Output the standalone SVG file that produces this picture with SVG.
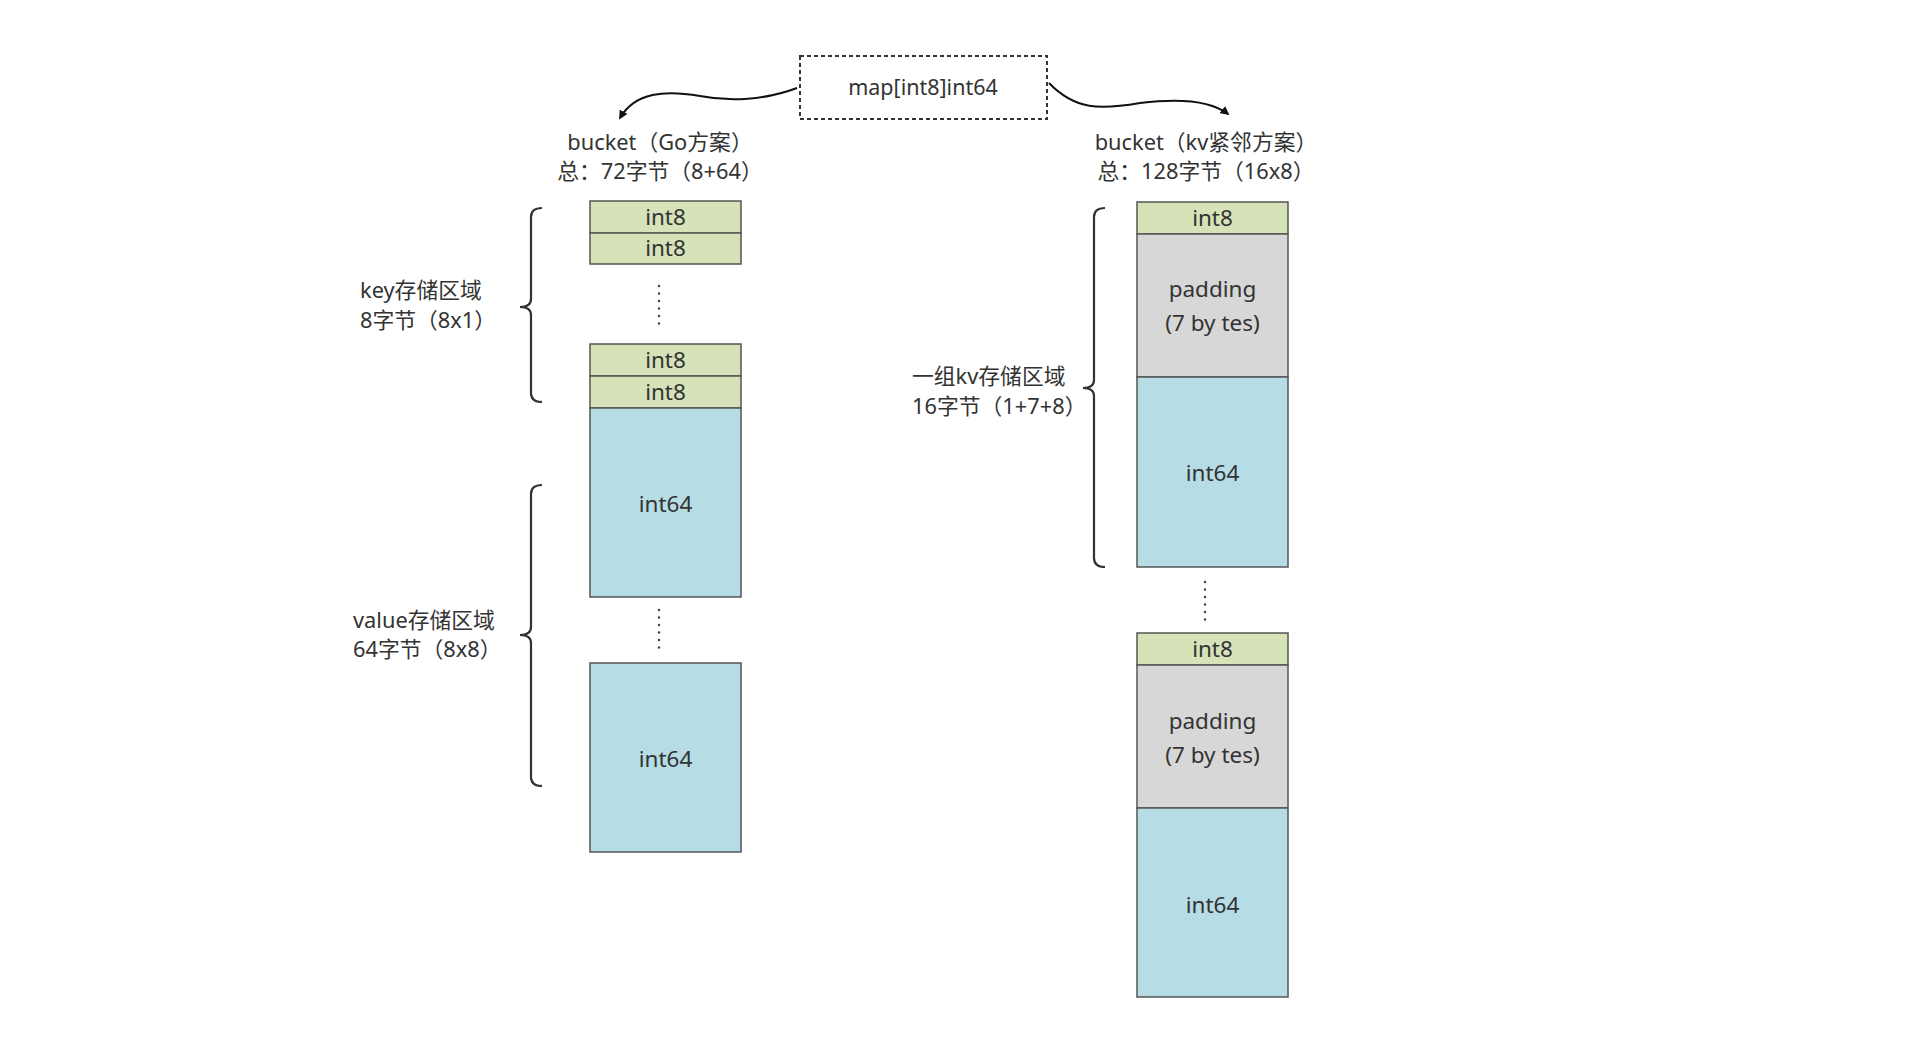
<svg xmlns="http://www.w3.org/2000/svg" width="1920" height="1047" viewBox="0 0 1920 1047">
<defs>
<style>
text{font-family:"Noto Sans","Noto Sans CJK SC",sans-serif;fill:#333;}
.lbl{font-size:21.8px;}
.cell{font-size:22.5px;text-anchor:middle;}
.k{fill:#d6e2b8;stroke:#555;stroke-width:1.5;}
.v{fill:#b6dce6;stroke:#555;stroke-width:1.5;}
.p{fill:#d7d7d7;stroke:#555;stroke-width:1.5;}
.brace{fill:none;stroke:#333;stroke-width:2.2;}
.dots{fill:none;stroke:#444;stroke-width:2.5;stroke-linecap:round;stroke-dasharray:0 7.5;}
.conn{fill:none;stroke:#111;stroke-width:2;}
</style>
<marker id="ah" viewBox="0 0 10 10" refX="8" refY="5" markerWidth="9" markerHeight="9" markerUnits="userSpaceOnUse" orient="auto">
<path d="M0,0 L10,5 L0,10 z" fill="#111"/>
</marker>
</defs>
<rect width="1920" height="1047" fill="#fff"/>

<g id="map-node">
<rect x="800" y="56" width="247" height="63" fill="none" stroke="#333" stroke-width="2" stroke-dasharray="4 3"/>
<text x="923" y="95" font-size="21.5" text-anchor="middle">map[int8]int64</text>
</g>

<g id="connectors">
<path class="conn" d="M797,88 C765,100 730,102 700,96 C665,90 635,92 620,118" marker-end="url(#ah)"/>
<path class="conn" d="M1049,83 C1075,110 1100,110 1140,103 C1180,98 1210,100 1228,114" marker-end="url(#ah)"/>
</g>

<g id="title-go">
<text class="lbl" x="660" y="150" text-anchor="middle">bucket（Go方案）</text>
<text class="lbl" x="660" y="179" text-anchor="middle">总：72字节（8+64）</text>
</g>
<g id="title-kv">
<text class="lbl" x="1206" y="150" text-anchor="middle">bucket（kv紧邻方案）</text>
<text class="lbl" x="1206" y="179" text-anchor="middle">总：128字节（16x8）</text>
</g>

<g id="go-bucket">
<rect class="k" x="590" y="201" width="151" height="32"/>
<text class="cell" x="665.5" y="225">int8</text>
<rect class="k" x="590" y="233" width="151" height="31"/>
<text class="cell" x="665.5" y="256">int8</text>
<path class="dots" d="M659,286 V325"/>
<rect class="k" x="590" y="344" width="151" height="32"/>
<text class="cell" x="665.5" y="368">int8</text>
<rect class="k" x="590" y="376" width="151" height="32"/>
<text class="cell" x="665.5" y="400">int8</text>
<rect class="v" x="590" y="408" width="151" height="189"/>
<text class="cell" x="665.5" y="512">int64</text>
<path class="dots" d="M659,610 V651"/>
<rect class="v" x="590" y="663" width="151" height="189"/>
<text class="cell" x="665.5" y="767">int64</text>
</g>

<g id="key-region">
<path class="brace" d="M542,208 Q531,208 531,217 L531,299 Q531,307 520,307 Q531,307 531,315 L531,393 Q531,402 542,402"/>
<text class="lbl" x="360" y="298">key存储区域</text>
<text class="lbl" x="360" y="328">8字节（8x1）</text>
</g>

<g id="value-region">
<path class="brace" d="M542,485 Q531,485 531,494 L531,627 Q531,635 520,635 Q531,635 531,643 L531,777 Q531,786 542,786"/>
<text class="lbl" x="353" y="628">value存储区域</text>
<text class="lbl" x="353" y="657">64字节（8x8）</text>
</g>

<g id="kv-bucket">
<rect class="k" x="1137" y="202" width="151" height="32"/>
<text class="cell" x="1212.5" y="226">int8</text>
<rect class="p" x="1137" y="234" width="151" height="143"/>
<text class="cell" x="1212.5" y="297">padding</text>
<text class="cell" x="1212.5" y="331">(7 by tes)</text>
<rect class="v" x="1137" y="377" width="151" height="190"/>
<text class="cell" x="1212.5" y="481">int64</text>
<path class="dots" d="M1205,582 V621"/>
<rect class="k" x="1137" y="633" width="151" height="32"/>
<text class="cell" x="1212.5" y="657">int8</text>
<rect class="p" x="1137" y="665" width="151" height="143"/>
<text class="cell" x="1212.5" y="729">padding</text>
<text class="cell" x="1212.5" y="763">(7 by tes)</text>
<rect class="v" x="1137" y="808" width="151" height="189"/>
<text class="cell" x="1212.5" y="913">int64</text>
</g>

<g id="kv-region">
<path class="brace" d="M1105,208 Q1094,208 1094,217 L1094,380 Q1094,388 1083,388 Q1094,388 1094,396 L1094,558 Q1094,567 1105,567"/>
<text class="lbl" x="912" y="384">一组kv存储区域</text>
<text class="lbl" x="912" y="414">16字节（1+7+8）</text>
</g>
</svg>
